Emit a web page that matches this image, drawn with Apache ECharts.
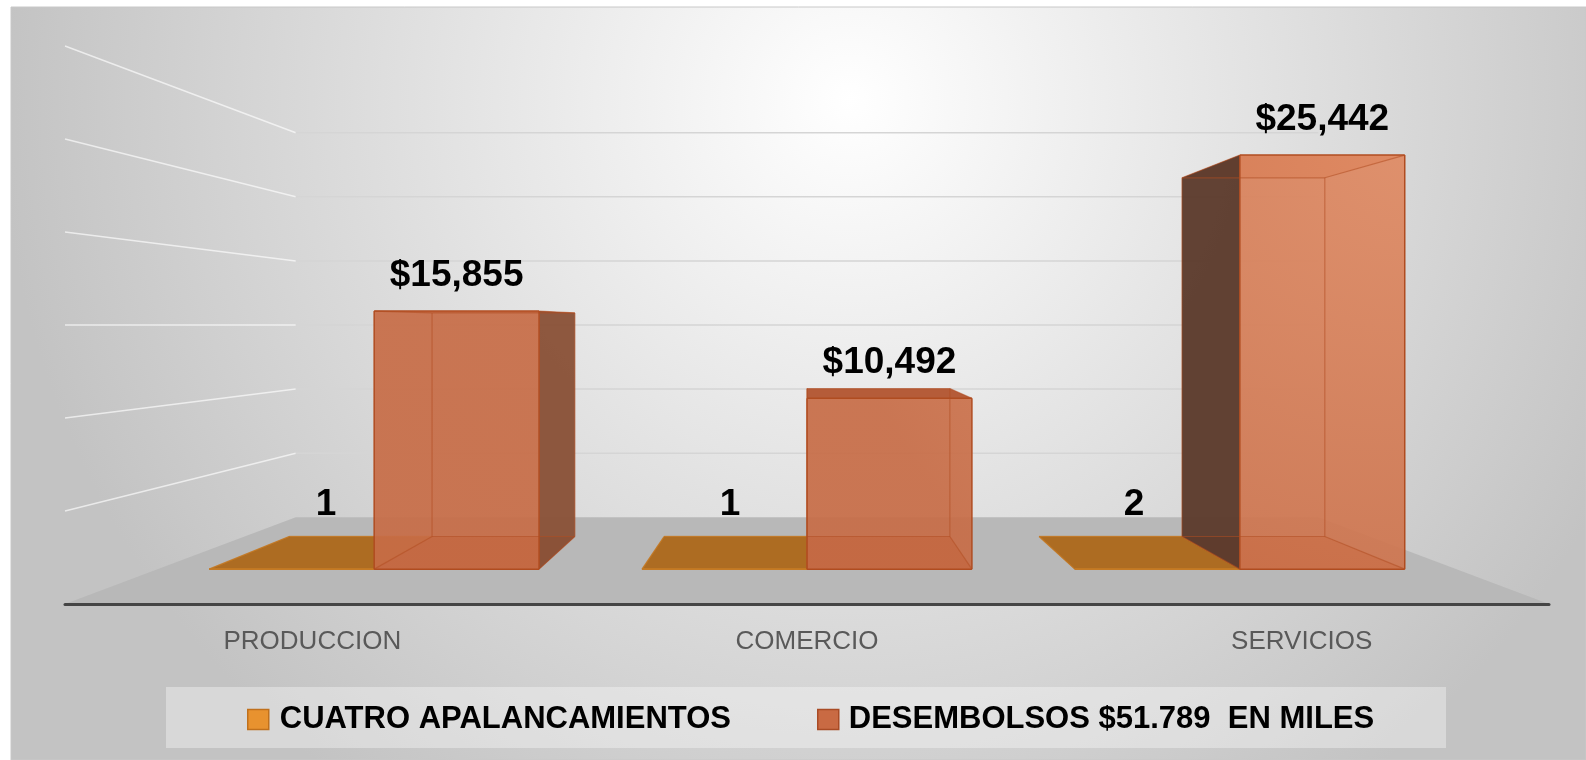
<!DOCTYPE html>
<html>
<head>
<meta charset="utf-8">
<title>Desembolsos por sector</title>
<script src="https://cdn.jsdelivr.net/npm/echarts@6.0.0/dist/echarts.min.js"></script>
<style>
html, body { margin: 0; padding: 0; background: #fff; }
#chart { width: 1586px; height: 760px; }
</style>
</head>
<body>
<div id="chart"></div>
<script>
var categories = ['PRODUCCION', 'COMERCIO', 'SERVICIOS'];
var apalancamientos = [1, 1, 2];
var desembolsos = [15855, 10492, 25442];
var gridValues = [0, 5000, 10000, 15000, 20000, 25000, 30000];
var seriesNames = ['CUATRO APALANCAMIENTOS', 'DESEMBOLSOS $51.789  EN MILES'];

var FONT = '"Liberation Sans", Arial, sans-serif';
// perspectiva: 1 = borde frontal del piso
var S_FRONT = 0.875, S_BACK = 0.758, S_WALL = 0.689;
var BAR_W = 0.381;

function proj(vp, x, y, s) {
    return [vp[0] + (x - vp[0]) * s, vp[1] + (y - vp[1]) * s];
}
function poly(pts, fill, opacity) {
    return { type: 'polygon', shape: { points: pts }, style: { fill: fill, opacity: opacity == null ? 1 : opacity } };
}
function seg(a, b, color, w) {
    return { type: 'line', shape: { x1: a[0], y1: a[1], x2: b[0], y2: b[1] }, style: { stroke: color, lineWidth: w } };
}

var frontRed = new echarts.graphic.RadialGradient(1420, 140, 600, [
    { offset: 0, color: '#e08b64' },
    { offset: 1, color: '#c76c46' }
], true);

var palettes = [
    { front: '#e69434', bottom: '#ad6c22', topDown: '#ad6c22', topUp: '#e69434', sideR: '#8a5a20', sideL: '#6b4515', edge: '#c47a25', inner: 'rgba(196,122,37,0.6)' },
    { front: frontRed, bottom: '#a24b26', topDown: '#b55c39', topUp: '#dc8760', sideR: '#8a5339', sideL: '#5d3c2d', edge: '#b04c20', inner: 'rgba(176,76,32,0.55)' }
];

function renderFrame(params, api) {
    var cs = params.coordSys;
    var vp = [cs.x + cs.width / 2, cs.y + cs.height / 2];
    var v = api.value(1);
    var y = api.coord([0, v])[1];
    var x0 = cs.x, x1 = cs.x + cs.width;
    var bl = proj(vp, x0, y, S_WALL), br = proj(vp, x1, y, S_WALL);
    if (v === 0) {
        return poly([[x0, y], [x1, y], br, bl], '#b8b8b8');
    }
    return {
        type: 'group',
        children: [
            seg([x0, y], bl, 'rgba(255,255,255,0.65)', 1.5),
            seg(bl, br, '#d5d5d5', 1.5)
        ]
    };
}

function makeBox(seriesIdx) {
    var pal = palettes[seriesIdx];
    return function (params, api) {
        var cs = params.coordSys;
        var vp = [cs.x + cs.width / 2, cs.y + cs.height / 2];
        var cat = api.value(0), val = api.value(1);
        var top = api.coord([cat, val]);
        var base = api.coord([cat, 0]);
        var band = api.size([1, 0])[0];
        var w = band * BAR_W;
        var xL = seriesIdx === 0 ? top[0] - w : top[0];
        var xR = xL + w;
        var yT = top[1], yB = base[1];

        var fTL = proj(vp, xL, yT, S_FRONT), fTR = proj(vp, xR, yT, S_FRONT);
        var fBR = proj(vp, xR, yB, S_FRONT), fBL = proj(vp, xL, yB, S_FRONT);
        var bTL = proj(vp, xL, yT, S_BACK), bTR = proj(vp, xR, yT, S_BACK);
        var bBR = proj(vp, xR, yB, S_BACK), bBL = proj(vp, xL, yB, S_BACK);

        var kids = [];
        kids.push(poly([fBL, fBR, bBR, bBL], pal.bottom));
        kids.push(poly([fTL, fTR, bTR, bTL], yT > vp[1] ? pal.topDown : pal.topUp));
        if (xR < vp[0]) kids.push(poly([fTR, bTR, bBR, fBR], pal.sideR, 0.97));
        if (xL > vp[0]) kids.push(poly([fTL, bTL, bBL, fBL], pal.sideL, 0.97));
        kids.push(poly([fTL, fTR, fBR, fBL], pal.front, 0.92));

        // aristas interiores (caja transparente)
        [[bTL, bTR], [bTR, bBR], [bBR, bBL], [bBL, bTL],
         [fTL, bTL], [fTR, bTR], [fBR, bBR], [fBL, bBL]].forEach(function (e) {
            kids.push(seg(e[0], e[1], pal.inner, 1.2));
        });
        [[fTL, fTR], [fTR, fBR], [fBR, fBL], [fBL, fTL]].forEach(function (e) {
            kids.push(seg(e[0], e[1], pal.edge, 1.5));
        });

        var txt, lx, ly;
        if (seriesIdx === 1) {
            txt = '$' + val.toLocaleString('en-US');
            lx = (fTL[0] + fTR[0]) / 2;
            ly = fTL[1] - 17;
        } else {
            var sm = (S_FRONT + S_BACK) / 2;
            var m = proj(vp, (xL + xR) / 2, yT, sm);
            txt = String(val);
            lx = m[0];
            ly = m[1] - 29;
        }
        kids.push({
            type: 'text',
            style: { text: txt, x: lx, y: ly, align: 'center', verticalAlign: 'bottom',
                     font: 'bold 37px ' + FONT, fill: '#000' }
        });
        return { type: 'group', children: kids };
    };
}

function seriesData(values) {
    return values.map(function (v, i) { return [i, v]; });
}

var myChart = echarts.init(document.getElementById('chart'));
var option = {
    animation: false,
    grid: { left: 65, right: 37, top: 46, bottom: 156 },
    xAxis: {
        type: 'category',
        data: categories,
        z: 5,
        axisTick: { show: false },
        axisLine: { lineStyle: { color: '#454545', width: 3 } },
        axisLabel: { margin: 25, color: '#595959', fontSize: 26, fontFamily: FONT },
        splitLine: { show: false }
    },
    yAxis: {
        type: 'value',
        min: 0,
        max: 30000,
        interval: 5000,
        show: false
    },
    legend: [{
        data: [{ name: seriesNames[0], itemStyle: { color: '#e8922f', borderColor: '#c0701c', borderWidth: 1.5 } }],
        left: 247, top: 704, padding: 0, icon: 'rect', itemWidth: 21, itemHeight: 20,
        textStyle: { fontFamily: FONT, fontSize: 31, fontWeight: 'bold', color: '#000', padding: [0, 0, 0, 6] }
    }, {
        data: [{ name: seriesNames[1], itemStyle: { color: '#c96a43', borderColor: '#a94b25', borderWidth: 1.5 } }],
        left: 817, top: 704, padding: 0, icon: 'rect', itemWidth: 21, itemHeight: 20,
        textStyle: { fontFamily: FONT, fontSize: 31, fontWeight: 'bold', color: '#000', padding: [0, 0, 0, 5] }
    }],
    graphic: [{
        type: 'rect', z: -10,
        shape: { x: 11, y: 7, width: 1575, height: 753 },
        style: {
            fill: new echarts.graphic.RadialGradient(850, 100, 850, [
                { offset: 0, color: '#ffffff' },
                { offset: 1, color: '#c3c3c3' }
            ], true),
            stroke: '#c8c8c8', lineWidth: 1
        }
    }, {
        type: 'rect', z: -9,
        shape: { x: 166, y: 687, width: 1280, height: 61 },
        style: { fill: 'rgba(255,255,255,0.35)' }
    }],
    series: [{
        type: 'custom',
        name: 'frame',
        silent: true,
        z: 1,
        clip: false,
        renderItem: renderFrame,
        encode: { x: 0, y: 1 },
        data: gridValues.map(function (v) { return [0, v]; })
    }, {
        type: 'custom',
        name: seriesNames[0],
        z: 2,
        clip: false,
        itemStyle: { color: '#e8922f' },
        renderItem: makeBox(0),
        encode: { x: 0, y: 1 },
        data: seriesData(apalancamientos)
    }, {
        type: 'custom',
        name: seriesNames[1],
        z: 3,
        clip: false,
        itemStyle: { color: '#c96a43' },
        renderItem: makeBox(1),
        encode: { x: 0, y: 1 },
        data: seriesData(desembolsos)
    }]
};
myChart.setOption(option);
window.addEventListener('resize', function () { myChart.resize(); });
</script>
</body>
</html>
